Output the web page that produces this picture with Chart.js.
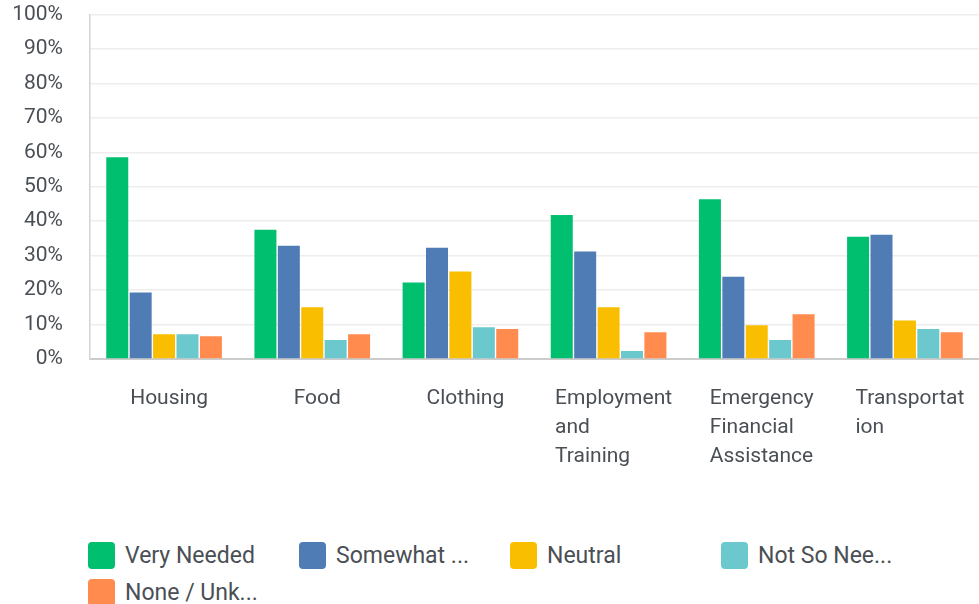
<!DOCTYPE html>
<html>
<head>
<meta charset="utf-8">
<script src="https://cdn.jsdelivr.net/npm/chart.js@4.4.1/dist/chart.umd.min.js"></script>
<style>
  html, body { margin: 0; padding: 0; background: #ffffff; }
  #wrap { position: relative; width: 979px; height: 604px; overflow: hidden; }
  #c { position: absolute; left: 0; top: -25px; }
  #legend { position: absolute; left: 88px; top: 537px; width: 880px; display: flex; flex-wrap: wrap; font-family: Roboto, "Liberation Sans", sans-serif; font-size: 23px; color: #4a4f55; }
  .item { width: 211px; height: 37px; display: flex; align-items: center; white-space: nowrap; }
  .box { width: 27px; height: 27px; border-radius: 4px; margin-right: 10px; flex: none; }
</style>
</head>
<body>
<div id="wrap">
  <canvas id="c" width="979" height="505"></canvas>
  <div id="legend"></div>
</div>
<script>
const categories = [
  ["Housing"],
  ["Food"],
  ["Clothing"],
  ["Employment", "and", "Training"],
  ["Emergency", "Financial", "Assistance"],
  ["Transportat", "ion"]
];
const seriesNames = ["Very Needed", "Somewhat ...", "Neutral", "Not So Nee...", "None / Unk..."];
const veryNeeded   = [58.6, 37.5, 22.2, 41.8, 46.4, 35.5];
const somewhat     = [19.3, 32.9, 32.3, 31.2, 23.9, 36.1];
const neutral      = [7.2, 15.0, 25.4, 15.0, 9.8, 11.2];
const notSoNeeded  = [7.2, 5.5, 9.2, 2.3, 5.5, 8.7];
const noneUnknown  = [6.6, 7.2, 8.7, 7.8, 13.0, 7.8];
const yTicks = [0, 10, 20, 30, 40, 50, 60, 70, 80, 90, 100];

const colors = ["#00bf6f", "#507cb6", "#f9be00", "#6bc8cd", "#ff8b4f"];
const seriesValues = [veryNeeded, somewhat, neutral, notSoNeeded, noneUnknown];
const TEXT = "#4a4f55";
const FONT = "Roboto, 'Liberation Sans', sans-serif";
const CANVAS_SHIFT = 25;

const datasets = seriesNames.map((n, i) => ({
  label: n,
  data: seriesValues[i],
  backgroundColor: colors[i],
  borderWidth: 0,
  barPercentage: 0.94,
  categoryPercentage: 0.79
}));

const xLabelPlugin = {
  id: 'xLabels',
  afterDraw(chart) {
    const ctx = chart.ctx;
    const xs = chart.scales.x;
    ctx.save();
    ctx.font = "21px " + FONT;
    ctx.fillStyle = TEXT;
    ctx.textAlign = 'left';
    ctx.textBaseline = 'middle';
    categories.forEach((lines, i) => {
      const cx = xs.getPixelForValue(i);
      let w = 0;
      lines.forEach(l => { w = Math.max(w, ctx.measureText(l).width); });
      const left = cx - w / 2 + 5;
      lines.forEach((l, k) => {
        ctx.fillText(l, left, 399 + CANVAS_SHIFT + k * 29);
      });
    });
    ctx.restore();
  }
};

new Chart(document.getElementById('c'), {
  type: 'bar',
  data: { labels: categories.map(c => c.join(' ')), datasets },
  options: {
    responsive: false,
    animation: false,
    layout: { padding: { top: 12, right: 0, left: 0, bottom: 0 } },
    plugins: { legend: { display: false }, tooltip: { enabled: false } },
    scales: {
      x: {
        grid: { display: false },
        border: { display: true, color: '#cccccc', width: 2 },
        ticks: { display: false },
        afterFit(s) { s.height = 121; }
      },
      y: {
        min: 0, max: 100,
        afterBuildTicks(s) { s.ticks = yTicks.map(v => ({ value: v })); },
        grid: { color: '#eeeeee', lineWidth: 1.5, drawTicks: false },
        border: { display: true, color: '#d4d4d4', width: 1.5 },
        ticks: {
          padding: 27,
          color: TEXT,
          font: { family: FONT, size: 21 },
          callback: v => v + '%'
        },
        afterFit(s) { s.width = 90; }
      }
    }
  },
  plugins: [xLabelPlugin]
});

const lg = document.getElementById('legend');
seriesNames.forEach((n, i) => {
  const it = document.createElement('div');
  it.className = 'item';
  const b = document.createElement('span');
  b.className = 'box';
  b.style.background = colors[i];
  const t = document.createElement('span');
  t.textContent = n;
  it.appendChild(b); it.appendChild(t);
  lg.appendChild(it);
});
</script>
</body>
</html>
